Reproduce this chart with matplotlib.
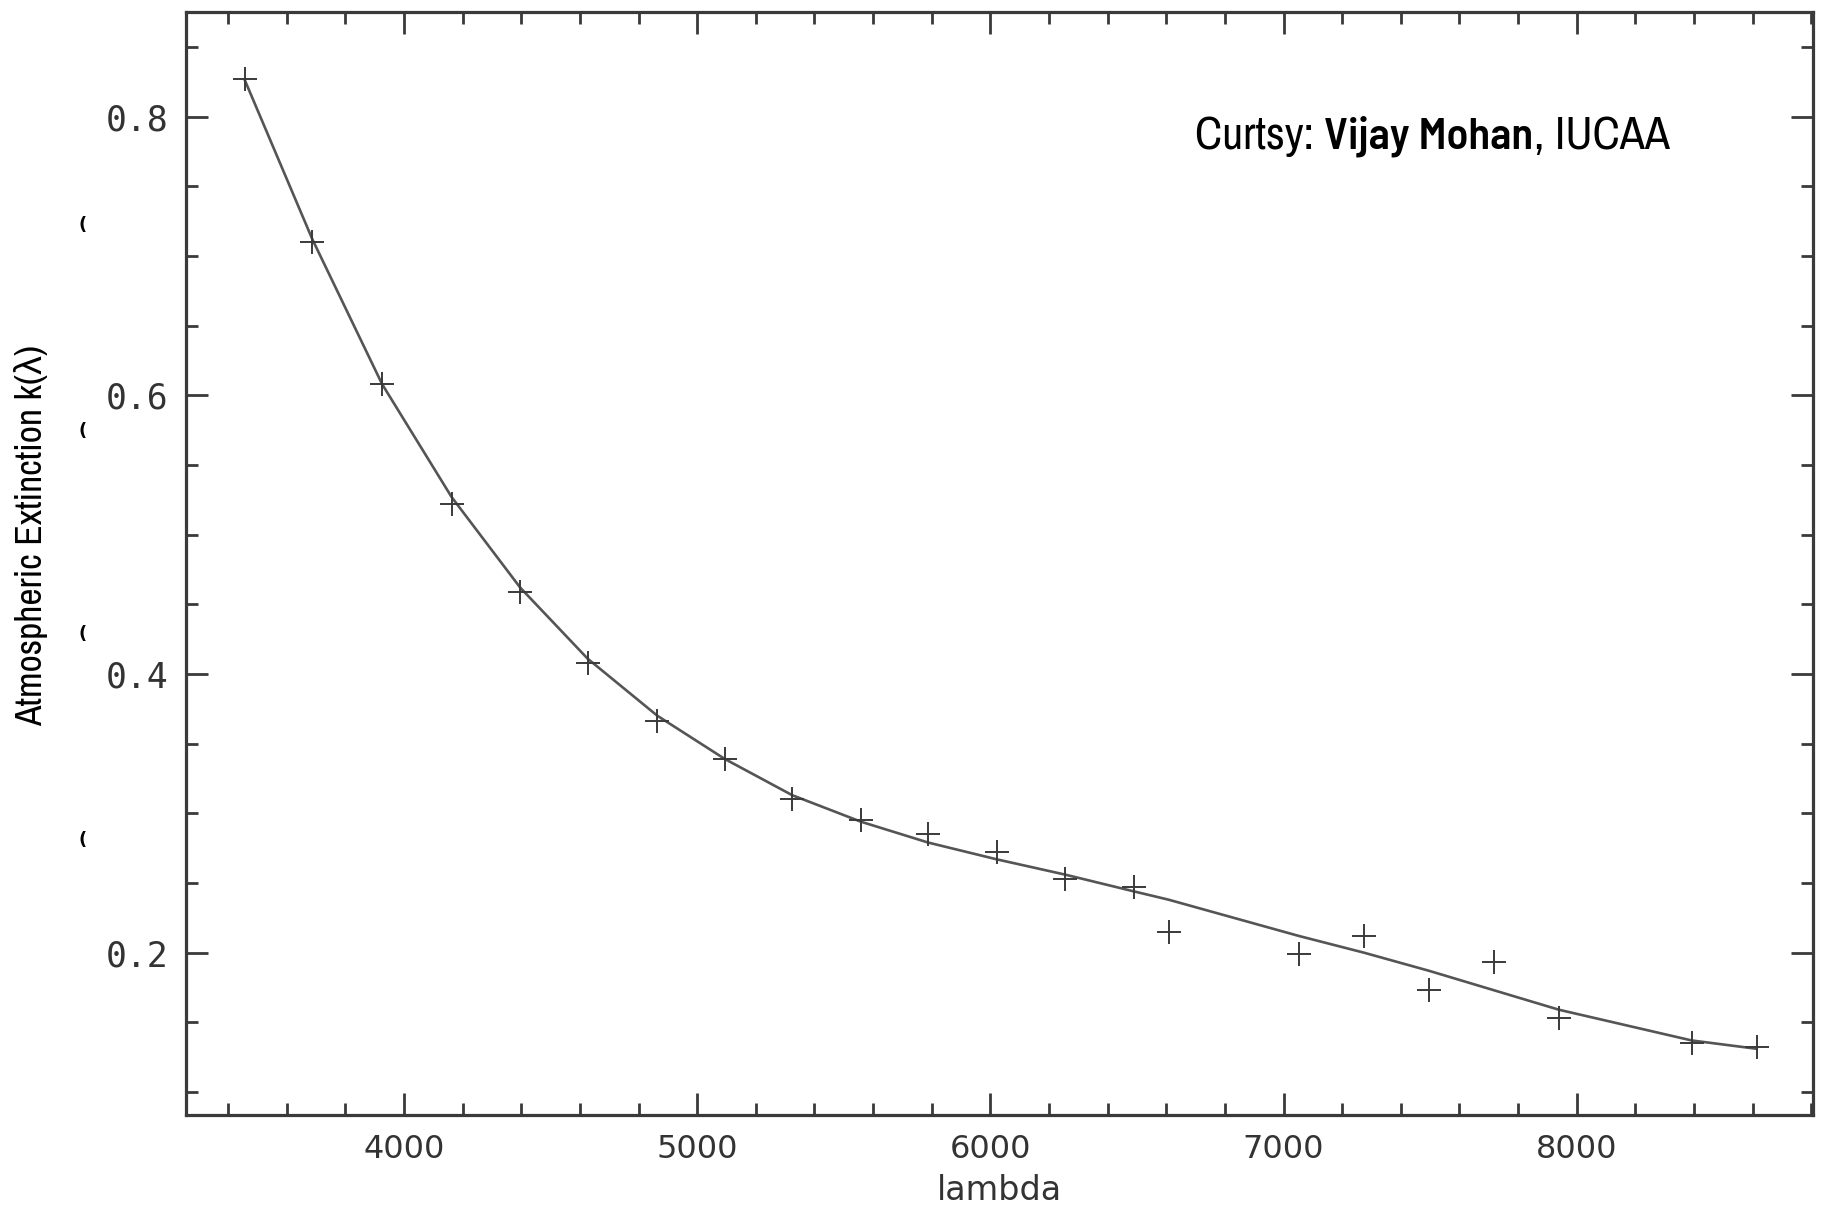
import matplotlib
matplotlib.use("Agg")
import matplotlib.pyplot as plt
from matplotlib.ticker import MultipleLocator

# measured extinction: wavelength (A) and k(lambda)
wave = [3457, 3687, 3925, 4162, 4396, 4626, 4864, 5094, 5324, 5558, 5788,
        6021, 6255, 6489, 6608, 7052, 7274, 7496, 7718, 7940, 8392, 8614]
k_obs = [0.827, 0.710, 0.608, 0.522, 0.459, 0.408, 0.366, 0.339, 0.310, 0.295, 0.285,
         0.272, 0.253, 0.247, 0.215, 0.199, 0.212, 0.173, 0.193, 0.153, 0.135, 0.132]

k_fit = [0.826, 0.712, 0.608, 0.527, 0.462, 0.411, 0.370, 0.339, 0.313, 0.294, 0.279,
         0.267, 0.256, 0.244, 0.238, 0.212, 0.200, 0.187, 0.173, 0.159, 0.137, 0.131]

xticks = [4000, 5000, 6000, 7000, 8000]
xtick_labels = ["4000", "5000", "6000", "7000", "8000"]
yticks = [0.2, 0.4, 0.6, 0.8]
ytick_labels = ["0.2", "0.4", "0.6", "0.8"]

ink = "#3a3a3a"
narrow = ["Liberation Sans Narrow", "Archivo Narrow", "Liberation Sans", "DejaVu Sans"]
narrow_bold = ["Liberation Sans Narrow", "Barlow Semi Condensed", "Liberation Sans", "DejaVu Sans"]

fig = plt.figure(figsize=(18.25, 12.05), dpi=100)
ax = fig.add_axes([0.1019, 0.0747, 0.8915, 0.9153])

ax.plot(wave, k_fit, color="#555555", lw=1.9)
ax.plot(wave, k_obs, ls="none", marker="+", ms=17, mew=1.4, color=ink)

ax.set_xlim(3256, 8806)
ax.set_ylim(0.0835, 0.875)

ax.set_xticks(xticks)
ax.set_xticklabels(xtick_labels)
ax.set_yticks(yticks)
ax.set_yticklabels(ytick_labels, family="DejaVu Sans Mono", fontsize=25)
ax.xaxis.set_minor_locator(MultipleLocator(200))
ax.yaxis.set_minor_locator(MultipleLocator(0.05))

ax.tick_params(which="both", direction="in", top=True, right=True,
               color=ink, width=2.0, labelcolor="#333333")
ax.tick_params(axis="x", labelsize=23)
ax.tick_params(which="major", length=16)
ax.tick_params(which="minor", length=8.5)
ax.tick_params(axis="x", which="major", pad=14)
ax.tick_params(axis="y", which="major", pad=13)

for s in ax.spines.values():
    s.set_color(ink)
    s.set_linewidth(2.3)

ax.set_xlabel("lambda", fontsize=24, color="#333333", labelpad=6)

fig.text(0.017, 0.556, "Atmospheric Extinction k(\u03bb)", rotation=90,
         ha="center", va="center", fontsize=27, color="black", family=narrow)

# stray marks left of the axis
for yy in [0.813, 0.642, 0.474, 0.303]:
    fig.text(0.0455, yy, "(", fontsize=13, fontweight="bold", ha="center", va="center")

# courtesy note
t1 = fig.text(0.6548, 0.8763, "Curtsy: ", fontsize=33, family=narrow, va="baseline")
t2 = ax.annotate("Vijay Mohan", xy=(1, 0), xycoords=t1, va="bottom", ha="left",
                 fontsize=32, fontweight="semibold", family=narrow_bold)
t3 = ax.annotate(", IUCAA", xy=(1, 0), xycoords=t2, va="bottom", ha="left",
                 fontsize=33, family=narrow)

fig.savefig("out.png", dpi=100)
